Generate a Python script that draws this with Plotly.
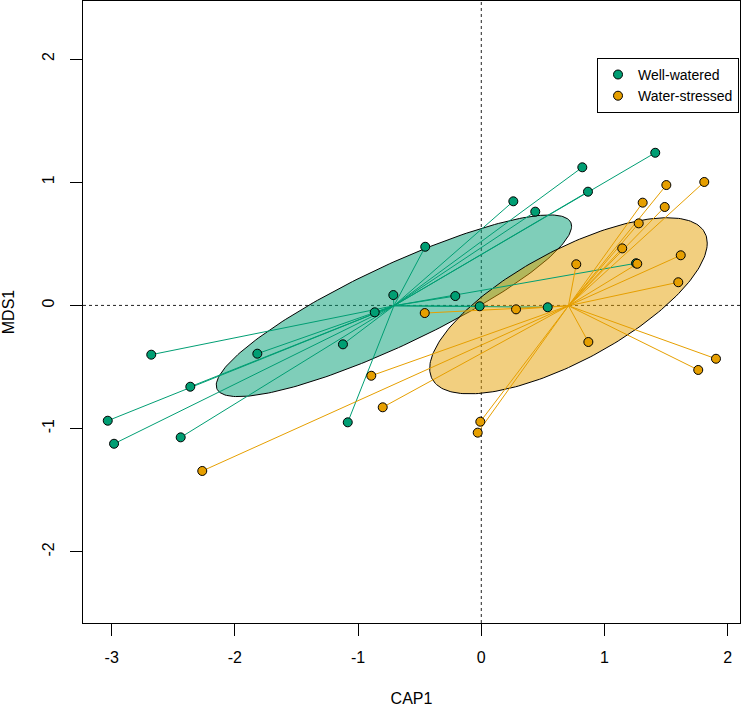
import numpy as np
import plotly.graph_objects as go

# ---- data ----
groups = ["Well-watered", "Water-stressed"]

ww_cap1 = [-0.714, -0.865, -1.123, -1.818, -2.679, -2.362, -3.032, -2.981, -2.440, -1.084,
           1.412, 0.820, 0.866, 0.260, 0.438, -0.455, -0.211, -0.013, 0.539, 1.256]
ww_mds1 = [0.084, -0.056, -0.316, -0.392, -0.400, -0.660, -0.936, -1.123, -1.071, -0.949,
           1.239, 1.121, 0.923, 0.845, 0.761, 0.476, 0.076, -0.007, -0.015, 0.342]

ws_cap1 = [1.810, 1.502, 1.310, 1.489, 1.278, 1.144, 0.771, 1.266, 1.619, 1.599,
           -0.459, 0.282, 0.869, 1.905, 1.761, -0.008, -0.029, -0.893, -0.800, -2.265]
ws_mds1 = [1.002, 0.977, 0.834, 0.799, 0.666, 0.463, 0.334, 0.338, 0.407, 0.188,
           -0.062, -0.032, -0.297, -0.433, -0.524, -0.944, -1.033, -0.571, -0.827, -1.344]

x_ticks = [-3, -2, -1, 0, 1, 2]
x_ticklabels = ["-3", "-2", "-1", "0", "1", "2"]
y_ticks = [-2, -1, 0, 1, 2]
y_ticklabels = ["-2", "-1", "0", "1", "2"]

# ---- styles ----
colors = ["#009E73", "#E69F00"]
fills = ["rgba(0,158,115,0.5)", "rgba(230,159,0,0.5)"]
FONT = "Liberation Sans, Arial, Helvetica, sans-serif"

data = [(ww_cap1, ww_mds1), (ws_cap1, ws_mds1)]

fig = go.Figure()

# standard-deviation ellipses (computed from the data)
t = np.linspace(0, 2 * np.pi, 241)
circ = np.column_stack([np.cos(t), np.sin(t)])
centroids = []
for (xs, ys), fc in zip(data, fills):
    X = np.column_stack([xs, ys])
    c = X.mean(axis=0)
    centroids.append(c)
    cov = np.cov(X.T)
    L = np.linalg.cholesky(cov)
    e = c + circ @ L.T
    fig.add_trace(go.Scatter(x=e[:, 0], y=e[:, 1], mode="lines", fill="toself",
                             fillcolor=fc, line=dict(color="black", width=1),
                             showlegend=False, hoverinfo="skip"))

# spiders from centroid to each point
for (xs, ys), c, col in zip(data, centroids, colors):
    sx, sy = [], []
    for xi, yi in zip(xs, ys):
        sx += [c[0], xi, None]
        sy += [c[1], yi, None]
    fig.add_trace(go.Scatter(x=sx, y=sy, mode="lines", line=dict(color=col, width=1),
                             showlegend=False, hoverinfo="skip"))

# points
for (xs, ys), col, name in zip(data, colors, groups):
    fig.add_trace(go.Scatter(x=xs, y=ys, mode="markers", name=name,
                             marker=dict(color=col, size=9, line=dict(color="black", width=1))))

# dotted reference lines
fig.add_shape(type="line", xref="x", yref="paper", x0=0, x1=0, y0=0, y1=1,
              line=dict(color="#222222", width=1, dash="dot"), layer="below")
fig.add_shape(type="line", xref="paper", yref="y", x0=0, x1=1, y0=0, y1=0,
              line=dict(color="#222222", width=1, dash="dot"), layer="below")

axis_common = dict(showgrid=False, zeroline=False, showline=True, linecolor="black",
                   linewidth=1, mirror=True, ticks="outside", ticklen=12, tickwidth=1,
                   tickcolor="black", tickfont=dict(family=FONT, size=16, color="black"),
                   automargin=False)

fig.update_xaxes(range=[-3.233, 2.100], tickvals=x_ticks, ticktext=x_ticklabels,
                 title=dict(text="CAP1", font=dict(family=FONT, size=16, color="black"), standoff=32),
                 ticklabelstandoff=8, **axis_common)
fig.update_yaxes(range=[-2.578, 2.471], tickvals=y_ticks, ticktext=y_ticklabels, tickangle=-90,
                 title=dict(text="MDS1", font=dict(family=FONT, size=16, color="black"), standoff=30),
                 ticklabelstandoff=10, **axis_common)

fig.update_layout(
    width=741, height=707,
    margin=dict(l=83, r=1, t=1, b=84, pad=0),
    plot_bgcolor="white", paper_bgcolor="white",
    font=dict(family=FONT, size=16, color="black"),
    legend=dict(x=0.9985, y=0.9085, xanchor="right", yanchor="top",
                bordercolor="black", borderwidth=1, bgcolor="white",
                font=dict(family=FONT, size=14, color="black"),
                tracegroupgap=0),
)

fig.write_html("out.html", config={"displayModeBar": False},
               post_script="document.body.style.margin='0px';document.body.style.overflow='hidden';")
